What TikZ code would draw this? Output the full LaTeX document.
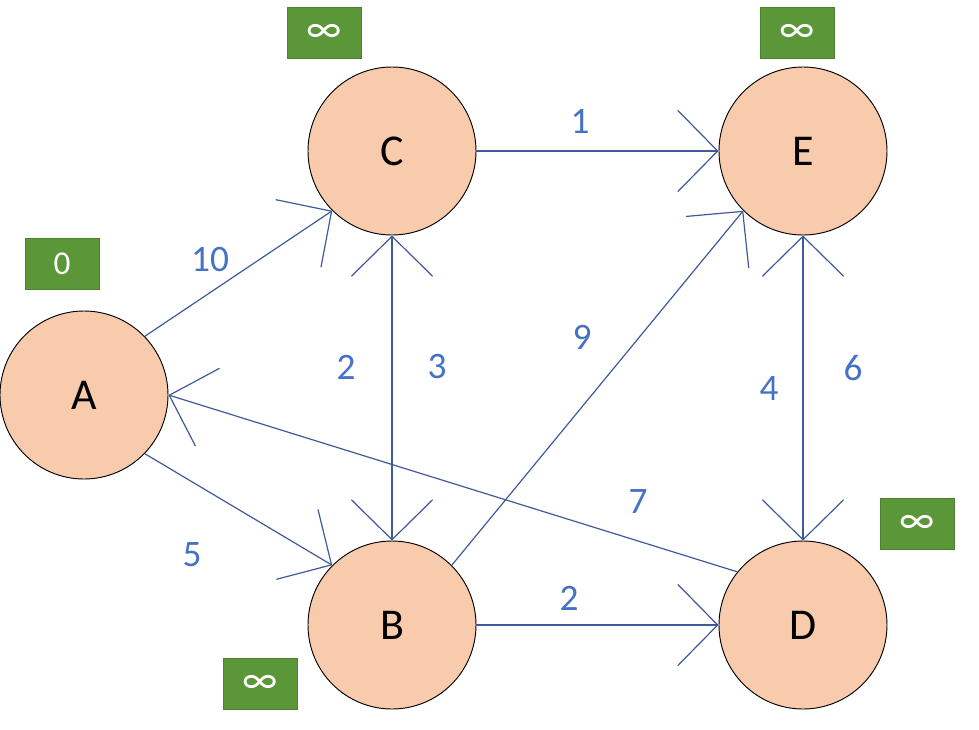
\documentclass[tikz,border=0pt]{standalone}
\usepackage{fontspec}
\setmainfont{Carlito}
\usetikzlibrary{arrows.meta}
\definecolor{peach}{HTML}{F8CBAD}
\definecolor{edgec}{HTML}{3F5A9A}
\definecolor{labc}{HTML}{4472C4}
\definecolor{boxg}{HTML}{5B9639}
\definecolor{boxb}{HTML}{4E8030}
\tikzset{
  vnode/.style={circle, fill=peach, draw=black, line width=0.7pt, minimum size=126pt, inner sep=0pt, font=\fontsize{33}{33}\selectfont},
  gbox/.style={rectangle, fill=boxg, draw=boxb, line width=0.5pt, minimum width=55.5pt, minimum height=38.5pt, inner sep=0pt, text=white, font=\fontsize{25}{25}\selectfont},
  ibox/.style={gbox, font=\fontsize{31}{31}\selectfont},
  wlab/.style={text=labc, inner sep=0pt, font=\fontsize{28}{28}\selectfont},
  link/.style={draw=edgec, line width=0.9pt},
  barb/.tip={Straight Barb[length=30pt, width=61pt]}
}
\begin{document}
\begin{tikzpicture}[x=0.75pt, y=-0.75pt]
\useasboundingbox (0,0) rectangle (979,729);
% vertices
\node[vnode] (A) at (84,395) {A};
\node[vnode] (C) at (392,151) {C};
\node[vnode] (E) at (803,151) {E};
\node[vnode] (B) at (392,625) {B};
\node[vnode] (D) at (803,625) {D};
% distance boxes
\node[gbox] (bA) at (62,264) {0};
\node[ibox] (bC) at (324,33) {∞};
\node[ibox] (bE) at (797,33) {∞};
\node[ibox] (bD) at (917,524) {∞};
\node[ibox] (bB) at (260,684) {∞};
% edges
\draw[link, -barb] (A.44) -- (C.225);
\draw[link, -barb] (A.-44) -- (B.135);
\draw[link, -barb] (D.141) -- (A.east);
\draw[link, -barb] (C.east) -- (E.west);
\draw[link, -barb] (B.east) -- (D.west);
\draw[link, -barb] (B.45) -- (E.225);
\draw[link, barb-barb] (C.south) -- (B.north);
\draw[link, barb-barb] (E.south) -- (D.north);
% weights
\node[wlab] (w1) at (210,260) {10};
\node[wlab] (w2) at (580,121) {1};
\node[wlab] (w3) at (346,367) {2};
\node[wlab] (w4) at (437,367) {3};
\node[wlab] (w5) at (582,337) {9};
\node[wlab] (w6) at (769,389) {4};
\node[wlab] (w7) at (853,368) {6};
\node[wlab] (w8) at (638,502) {7};
\node[wlab] (w9) at (192,555) {5};
\node[wlab] (w10) at (569,598) {2};
\end{tikzpicture}
\end{document}
